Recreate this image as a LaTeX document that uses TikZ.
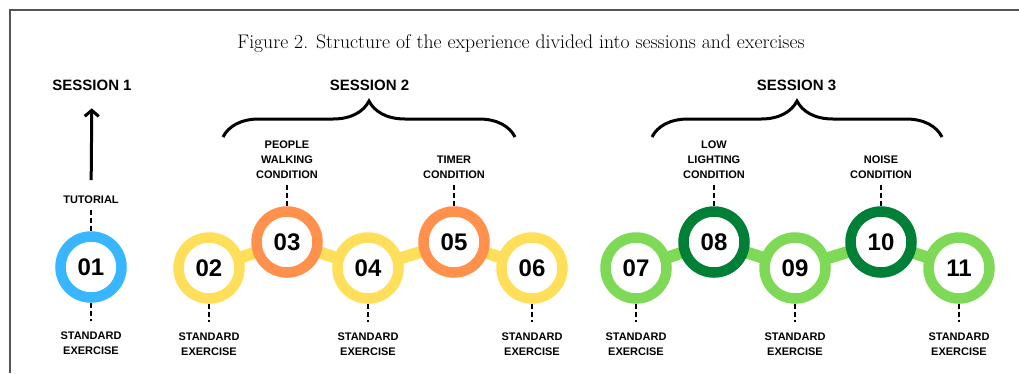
\documentclass[tikz,border=0pt]{standalone}
\usepackage{fontspec}
\newfontfamily\labelfont{Liberation Sans}
\usetikzlibrary{arrows.meta,positioning,decorations.pathreplacing,backgrounds}
\definecolor{skyblue}{HTML}{38B6FF}
\definecolor{sunny}{HTML}{FFDE59}
\definecolor{tangerine}{HTML}{FF914D}
\definecolor{leafgreen}{HTML}{7ED957}
\definecolor{forest}{HTML}{008037}
\definecolor{framegray}{HTML}{555555}

\begin{document}
\begin{tikzpicture}[x=1pt,y=-1pt,
 ring/.style={circle,draw=#1,line width=10.5pt,fill=white,minimum size=61pt,inner sep=0pt,
 font=\labelfont\bfseries\fontsize{24}{24}\selectfont},
 link/.style={line width=12pt,#1},
 tag/.style={font=\labelfont\bfseries\fontsize{11}{15}\selectfont,align=center,inner sep=0pt},
 session/.style={font=\labelfont\bfseries\fontsize{15}{18}\selectfont,inner sep=0pt},
 tick/.style={dashed,dash pattern=on 5pt off 3pt,line width=1.8pt},
 brace/.style={decorate,decoration={brace,amplitude=36pt},line width=3pt},
 node distance=27pt]
\useasboundingbox (0,0) rectangle (1019,373);
\draw[framegray,line width=1.5pt] (10,373) -- (10,10) -- (1019,10);
\node[font=\fontsize{19.7}{22}\selectfont] (title) at (521,44)
 {Figure 2. Structure of the experience divided into sessions and exercises};
% exercises
\node[ring=skyblue] (e01) at (91,267) {01};
\node[ring=sunny] (e02) at (209,268) {02};
\node[ring=tangerine] (e03) at (287,242) {03};
\node[ring=sunny] (e04) at (368,268) {04};
\node[ring=tangerine] (e05) at (454,242) {05};
\node[ring=sunny] (e06) at (532,268) {06};
\node[ring=leafgreen] (e07) at (636,268) {07};
\node[ring=forest] (e08) at (714,242) {08};
\node[ring=leafgreen] (e09) at (795,268) {09};
\node[ring=forest] (e10) at (881,242) {10};
\node[ring=leafgreen] (e11) at (959,268) {11};
\begin{scope}[on background layer]
\foreach \a/\b in {02/03,03/04,04/05,05/06}
 \draw[link=sunny] (e\a.center) -- (e\b.center);
\foreach \a/\b in {07/08,08/09,09/10,10/11}
 \draw[link=leafgreen] (e\a.center) -- (e\b.center);
\end{scope}
% conditions above
\node[tag,above=of e01] (t01) {TUTORIAL};
\node[tag,above=of e03] (t03) {PEOPLE\\WALKING\\CONDITION};
\node[tag,above=of e05] (t05) {TIMER\\CONDITION};
\node[tag,above=of e08] (t08) {LOW\\LIGHTING\\CONDITION};
\node[tag,above=of e10] (t10) {NOISE\\CONDITION};
\foreach \n in {01,03,05,08,10}
 \draw[tick,shorten <=6pt] (t\n) -- (e\n);
% standard exercises below
\foreach \n in {01,02,04,06,07,09,11}{
 \node[tag,below=29pt of e\n] (s\n) {STANDARD\\EXERCISE};
 \draw[tick,shorten >=11pt] (e\n) -- (s\n);
}
% sessions
\node[session,anchor=base] (ses1) at (92,90) {SESSION 1};
\node[session,anchor=base] (ses2) at (369.5,90) {SESSION 2};
\node[session,anchor=base] (ses3) at (796.5,90) {SESSION 3};
\draw[line width=3pt,-{Straight Barb[length=6pt,width=14pt]},shorten <=16pt,shorten >=18pt]
 (t01) -- (ses1);
\coordinate (b2l) at (223,137);
\coordinate (b2r) at (515,137);
\coordinate (b3l) at (652,137);
\coordinate (b3r) at (942,137);
\draw[brace] (b2l) -- (b2r);
\draw[brace] (b3l) -- (b3r);
\end{tikzpicture}
\end{document}
